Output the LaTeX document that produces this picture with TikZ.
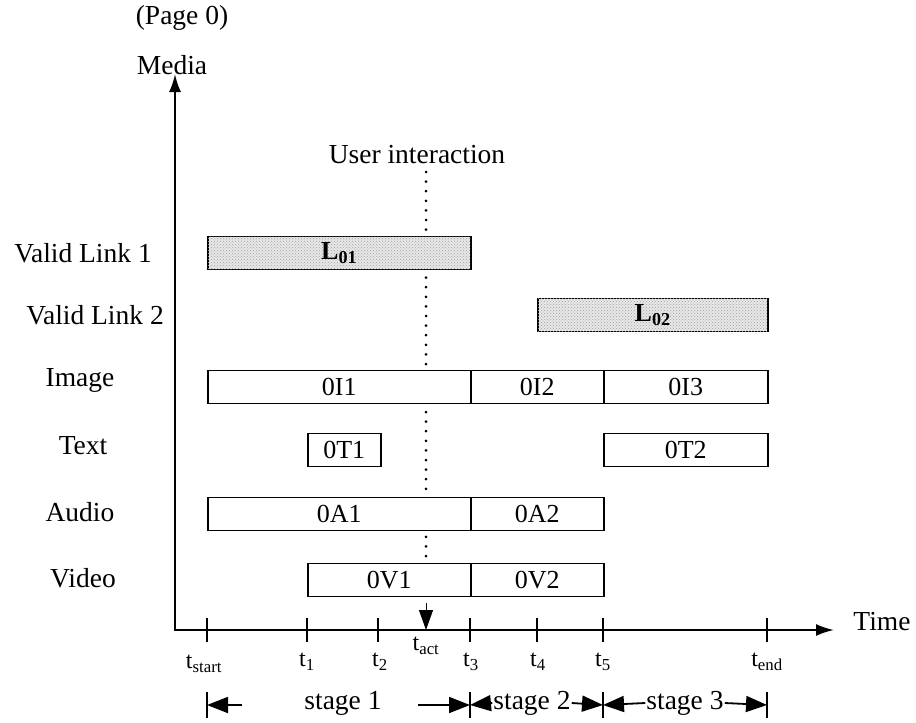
\documentclass[tikz,border=0pt]{standalone}
\usepackage{fontspec}
\setmainfont{Liberation Serif}
\usepackage{tikz}
\usetikzlibrary{arrows.meta,patterns}

\begin{document}
\begin{tikzpicture}[x=1pt, y=-1pt,
  bar/.style={draw, line width=1.5pt, fill=white, inner sep=0pt,
              minimum height=33pt, anchor=west, font=\fontsize{26}{30}\selectfont},
  linkbar/.style={bar, fill=gray!18,
                  postaction={pattern=crosshatch dots, pattern color=gray!75}},
  rowlabel/.style={font=\fontsize{27.5}{32}\selectfont},
  ticklabel/.style={font=\fontsize{24}{28}\selectfont},
  stagearr/.style={line width=1.8pt, -{Triangle[length=21pt,width=16pt]}},
  axis/.style={line width=2pt}]

  \useasboundingbox (0,0) rectangle (916,723);

  %% Axes
  \coordinate (O) at (175,630);
  \coordinate (ytop) at (175,74);
  \coordinate (xend) at (834,630);
  \draw[axis, {Latex[length=18pt,width=12pt]}-{Latex[length=18pt,width=12pt]}]
    (ytop) -- (O) -- (xend);
  \node[rowlabel] (page) at (182,18) {(Page 0)};
  \node[rowlabel] (media) at (172,65) {Media};
  \node[rowlabel] (time) at (882,622) {Time};

  %% Ticks on the time axis
  \foreach \n/\x in {ts/207, t1/307, t2/378, t3/470, t4/537, t5/603, te/767} {
    \coordinate (\n) at (\x,630);
    \draw[line width=1.5pt] ([yshift=12pt]\n) -- ([yshift=-12pt]\n);
  }
  \node[ticklabel] (lts) at (204,664) {t\textsubscript{start}};
  \node[ticklabel] (lt1) at (307,662) {t\textsubscript{1}};
  \node[ticklabel] (lt2) at (380,662) {t\textsubscript{2}};
  \node[ticklabel] (lt3) at (471,662) {t\textsubscript{3}};
  \node[ticklabel] (lt4) at (538,662) {t\textsubscript{4}};
  \node[ticklabel] (lt5) at (603,662) {t\textsubscript{5}};
  \node[ticklabel] (lte) at (767,662) {t\textsubscript{end}};
  \node[ticklabel] (ltact) at (426,646) {t\textsubscript{act}};

  %% User interaction
  \node[rowlabel] (ui) at (417,155) {User interaction};
  \coordinate (uitop) at (426,172);
  \coordinate (uibot) at (426,603);
  \coordinate (act) at (426,630);
  \draw[line width=3pt, line cap=round, dash pattern=on 0pt off 9.6pt] (uitop) -- (uibot);
  \draw[line width=1pt, -{Triangle[length=20pt,width=14pt]}] (uibot) -- (act);

  %% Row labels
  \node[rowlabel] (rl1) at (83,253) {Valid Link 1};
  \node[rowlabel] (rl2) at (95,315) {Valid Link 2};
  \node[rowlabel] (rim) at (80,380) {Image};
  \node[rowlabel] (rtx) at (83,446) {Text};
  \node[rowlabel] (rau) at (80,512) {Audio};
  \node[rowlabel] (rvi) at (83,578) {Video};

  %% Media bars
  \node[linkbar, minimum width=263pt] (L1) at (207,253) {\textbf{L\textsubscript{01}}};
  \node[linkbar, minimum width=230pt] (L2) at (537,315) {\textbf{L\textsubscript{02}}};

  \node[bar, minimum width=263pt] (I1) at (207,387) {0I1};
  \node[bar, minimum width=133pt] (I2) at (470,387) {0I2};
  \node[bar, minimum width=164pt] (I3) at (603,387) {0I3};

  \node[bar, minimum width=73pt]  (T1) at (307,450) {0T1};
  \node[bar, minimum width=164pt] (T2) at (603,450) {0T2};

  \node[bar, minimum width=263pt] (A1) at (207,514) {0A1};
  \node[bar, minimum width=133pt] (A2) at (470,514) {0A2};

  \node[bar, minimum width=163pt] (V1) at (307,580) {0V1};
  \node[bar, minimum width=133pt] (V2) at (470,580) {0V2};

  %% Stages
  \foreach \n/\x in {b0/207, b1/470, b2/603, b3/767} {
    \coordinate (\n) at (\x,705);
    \draw[line width=2pt] ([yshift=13pt]\n) -- ([yshift=-13pt]\n);
  }
  \coordinate (e0) at (242,705);
  \coordinate (e1) at (418,705);
  \node[rowlabel, inner sep=2pt] (s1) at (343,703) {stage 1};
  \node[rowlabel, inner sep=1pt] (s2) at (532,703) {stage 2};
  \node[rowlabel, inner sep=1pt] (s3) at (685,703) {stage 3};
  \draw[stagearr] (e0) -- (b0);
  \draw[stagearr] (e1) -- (b1);
  \draw[stagearr] (s2.west) -- (b1);
  \draw[stagearr] (s2.east) -- (b2);
  \draw[stagearr] (s3.west) -- (b2);
  \draw[stagearr] (s3.east) -- (b3);

\end{tikzpicture}
\end{document}
